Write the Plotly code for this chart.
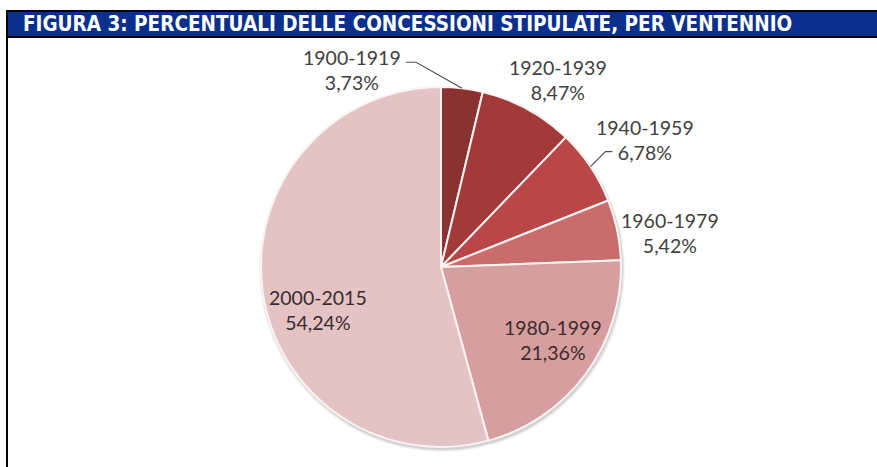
import math
import plotly.graph_objects as go

# Data: share of concessions per twenty-year period
periods = ["1900-1919", "1920-1939", "1940-1959", "1960-1979", "1980-1999", "2000-2015"]
shares = [3.73, 8.47, 6.78, 5.42, 21.36, 54.24]
colors = ["#8a3131", "#a23a3a", "#b94747", "#c96c6c", "#d69e9e", "#e4c3c5"]

title_text = "FIGURA 3: PERCENTUALI DELLE CONCESSIONI STIPULATE, PER VENTENNIO"

W, H = 877, 467
CX, CY, R = 441, 267, 180  # pie centre and radius in pixels

# label placement: radius factor along the slice mid-angle + pixel nudge
label_rf = [1.0, 1.0, 1.0, 1.0, 0.74, 0.72]
label_off = [(-110, -18), (31, -29), (55, -27), (53, 3), (5, -6), (5, 26)]
label_col = ["#404040", "#404040", "#404040", "#404040", "#3b2b2b", "#3b2b2b"]
# leader-line elbows relative to the slice edge point (only for two labels)
leaders = {0: [(-46, -26), (-56, -26)], 2: [(15, -15), (22, -15)]}


def px(x):
    return x / W


def py(y):
    return 1 - y / H


fig = go.Figure()
fig.add_trace(go.Pie(
    labels=periods,
    values=shares,
    sort=False,
    direction="clockwise",
    rotation=0,
    marker=dict(colors=colors, line=dict(color="#fbf3f3", width=2)),
    textinfo="none",
    hoverinfo="label+percent",
    showlegend=False,
    domain=dict(x=[px(CX - R), px(CX + R)], y=[py(CY + R), py(CY - R)]),
))

shapes = []
# soft drop shadow under the pie
for i, a in enumerate([0.05, 0.08, 0.12]):
    g = 3 - i
    shapes.append(dict(type="circle", xref="paper", yref="paper", layer="below",
                       x0=px(CX - R - g + 1), x1=px(CX + R + g + 1),
                       y0=py(CY + R + g + 2), y1=py(CY - R + g - 1),
                       fillcolor=f"rgba(60,60,60,{a})", line=dict(width=0)))

annotations = []
total = sum(shares)
cum = 0.0
for i, (p, v) in enumerate(zip(periods, shares)):
    mid = (cum + v / 2) / total * 2 * math.pi
    cum += v
    ex = CX + R * math.sin(mid)
    ey = CY - R * math.cos(mid)
    ax = CX + label_rf[i] * R * math.sin(mid) + label_off[i][0]
    ay = CY - label_rf[i] * R * math.cos(mid) + label_off[i][1]
    txt = f"{p}<br>{v:.2f}".replace(".", ",") + "%"
    annotations.append(dict(x=px(ax), y=py(ay), xref="paper", yref="paper",
                            text=txt, showarrow=False, align="center",
                            xanchor="center", yanchor="middle",
                            font=dict(family="Lato, Open Sans, sans-serif", size=19.5, color=label_col[i])))
    if i in leaders:
        pts = [(ex, ey)] + [(ex + dx, ey + dy) for dx, dy in leaders[i]]
        path = "M " + " L ".join(f"{px(x)},{py(y)}" for x, y in pts)
        shapes.append(dict(type="path", xref="paper", yref="paper", path=path,
                           line=dict(color="#505050", width=1.2)))

# title bar with black frame and left rule
shapes.append(dict(type="rect", xref="paper", yref="paper", x0=px(6), x1=1.0,
                   y0=py(38), y1=py(10), fillcolor="#000000", line=dict(width=0)))
shapes.append(dict(type="rect", xref="paper", yref="paper", x0=px(8), x1=1.0,
                   y0=py(36), y1=py(12), fillcolor="#0a2f8c", line=dict(width=0)))
shapes.append(dict(type="rect", xref="paper", yref="paper", x0=px(6), x1=px(8),
                   y0=0, y1=py(10), fillcolor="#000000", line=dict(width=0)))

annotations.append(dict(x=px(21), y=py(23.5), xref="paper", yref="paper",
                        text=f"<b>{title_text}</b>", showarrow=False,
                        xanchor="left", yanchor="middle",
                        font=dict(family="Liberation Sans Narrow, DejaVu Sans Condensed, sans-serif",
                                  size=20.5, color="#ffffff")))

fig.update_layout(
    width=W, height=H,
    margin=dict(l=0, r=0, t=0, b=0),
    paper_bgcolor="#ffffff",
    plot_bgcolor="#ffffff",
    shapes=shapes,
    annotations=annotations,
)

fig.write_html("out.html")
